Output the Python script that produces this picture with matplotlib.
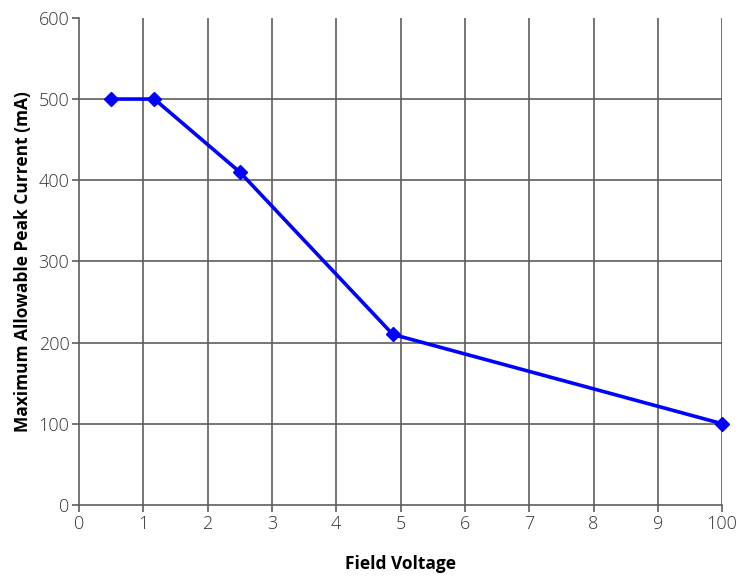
import matplotlib
matplotlib.use("Agg")
import matplotlib.pyplot as plt

# values (x as tick positions; last tick is labelled 100)
x_pos = [0.5, 1.17, 2.5, 4.88, 10]
current_ma = [500, 500, 410, 210, 100]
x_tick_labels = ["0", "1", "2", "3", "4", "5", "6", "7", "8", "9", "100"]
y_ticks = [0, 100, 200, 300, 400, 500, 600]

GRID = "#5e5e5e"
LINE = "#0000ff"

plt.rcParams["font.family"] = ["Open Sans", "DejaVu Sans"]

fig = plt.figure(figsize=(7.53, 5.77), dpi=100)
ax = fig.add_axes([0.105, 0.125, 0.854, 0.844])

ax.plot(x_pos, current_ma, color=LINE, lw=2.6, marker="D", ms=7, zorder=3, clip_on=False)

ax.set_xlim(0, 10)
ax.set_ylim(0, 600)
ax.set_xticks(range(len(x_tick_labels)))
ax.set_xticklabels(x_tick_labels)
ax.set_yticks(y_ticks)

for xv in range(1, 11):
    ax.axvline(xv, color=GRID, lw=1.2, zorder=1)
for yv in y_ticks[1:-1]:
    ax.axhline(yv, color=GRID, lw=1.2, zorder=1)

for side in ["top", "right"]:
    ax.spines[side].set_visible(False)
for side in ["left", "bottom"]:
    ax.spines[side].set_color(GRID)
    ax.spines[side].set_linewidth(1.2)

ax.tick_params(axis="both", colors=GRID, length=5, width=1.2, labelsize=13,
               labelcolor="#333333", pad=2)
for lbl in ax.get_xticklabels() + ax.get_yticklabels():
    lbl.set_fontweight("light")

ax.set_xlabel("Field Voltage", fontsize=12.5, fontweight="bold", labelpad=16)
ax.set_ylabel("Maximum Allowable Peak Current (mA)", fontsize=12.5, fontweight="bold", labelpad=5)

fig.savefig("out.png", dpi=100)
